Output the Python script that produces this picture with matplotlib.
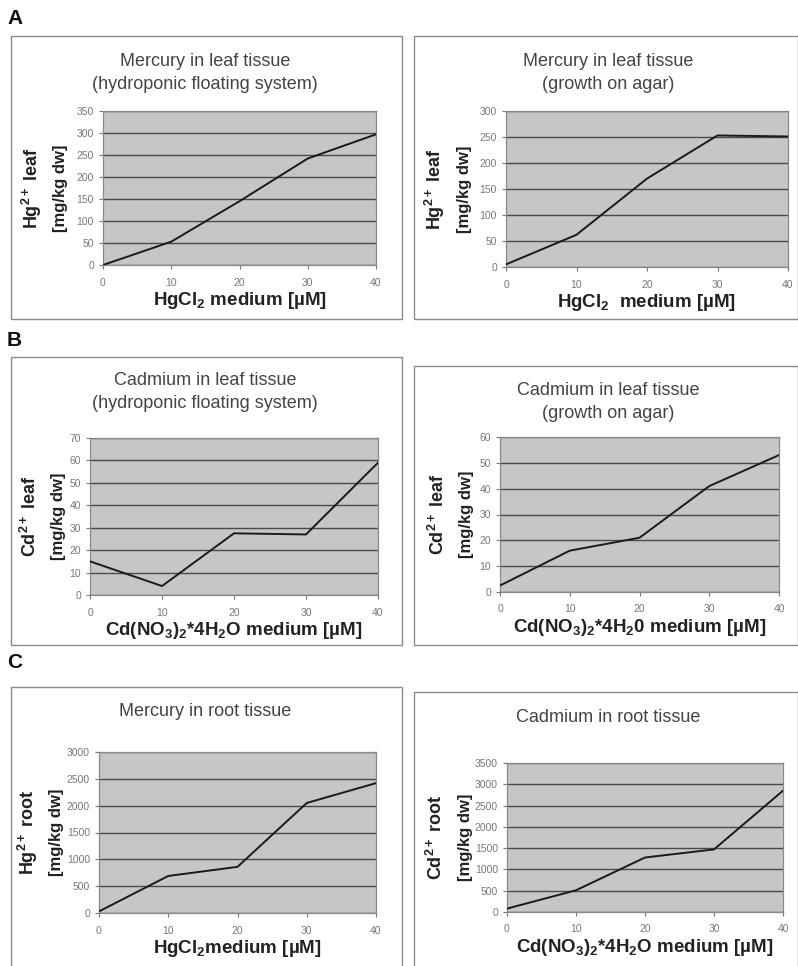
import matplotlib.pyplot as plt
from matplotlib.patches import Rectangle

plt.rcParams['font.family'] = ['Liberation Sans', 'DejaVu Sans']
plt.rcParams['mathtext.fontset'] = 'custom'
plt.rcParams['mathtext.rm'] = 'Liberation Sans'
plt.rcParams['mathtext.bf'] = 'Liberation Sans:bold'
plt.rcParams['mathtext.default'] = 'regular'

W, H = 798, 966

conc = [0, 10, 20, 30, 40]
conc_ticks = [0, 10, 20, 30, 40]

hg_leaf_float = [0, 53, 145, 242, 297]
hg_leaf_agar = [5, 62, 170, 253, 251]
cd_leaf_float = [15, 4, 27.5, 27, 59]
cd_leaf_agar = [2.5, 16, 21, 41, 53]
hg_root = [30, 690, 860, 2050, 2420]
cd_root = [80, 510, 1280, 1470, 2850]

fig = plt.figure(figsize=(W / 100, H / 100), dpi=100)


def frame(x0, y0, x1, y1):
    fig.patches.append(Rectangle((x0 / W, 1 - y1 / H), (x1 - x0) / W, (y1 - y0) / H,
                                 transform=fig.transFigure, fill=False,
                                 edgecolor='#8a8a8a', lw=1.0))


def panel(box, values, ymax, ystep, title, ylab1, ylab2, xlab, title_y, frame_cx, ylab_x):
    x0, y0, x1, y1 = box
    ax = fig.add_axes([x0 / W, 1 - y1 / H, (x1 - x0) / W, (y1 - y0) / H])
    ax.set_facecolor('#c6c6c6')
    ax.plot(conc, values, color='#1a1a1a', lw=1.4, zorder=3)
    ax.set_xlim(0, 40)
    ax.set_ylim(0, ymax)
    ax.set_xticks(conc_ticks)
    ax.set_yticks(range(0, ymax + 1, ystep))
    ax.yaxis.grid(True, color='#4a4a4a', lw=1.0)
    ax.set_axisbelow(True)
    for s in ax.spines.values():
        s.set_color('#8a8a8a')
        s.set_linewidth(0.9)
    ax.tick_params(axis='both', labelsize=7.5, colors='#777777', length=3, width=0.8)
    ax.tick_params(axis='x', pad=6)
    cy = 1 - (y0 + y1) / 2 / H
    fig.text(ylab_x / W, cy, ylab1, rotation=90, ha='center', va='center',
             fontsize=13, fontweight='bold', color='#222222')
    fig.text((ylab_x + 29) / W, cy, ylab2, rotation=90, ha='center', va='center',
             fontsize=12, fontweight='bold', color='#222222')
    ax.set_xlabel(xlab, fontsize=13.5, fontweight='bold', color='#222222', labelpad=2)
    fig.text(frame_cx / W, 1 - title_y / H, title, ha='center', va='center',
             fontsize=13, color='#444444', linespacing=1.5)
    return ax


# frames
frame(11, 36, 402, 319)
frame(414, 36, 798, 319)
frame(11, 357, 402, 645)
frame(414, 366, 798, 645)
frame(11, 687, 402, 968)
frame(414, 692, 798, 968)

for letter, y in [('A', 18), ('B', 340), ('C', 662)]:
    fig.text(7 / W, 1 - y / H, letter, fontsize=15, fontweight='bold',
             ha='left', va='center', color='#111111')

panel((103, 111, 376, 265), hg_leaf_float, 350, 50,
      'Mercury in leaf tissue\n(hydroponic floating system)',
      'Hg$^{2+}$ leaf', '[mg/kg dw]', 'HgCl$_2$ medium [µM]', 73, 205, 32)
panel((506, 111, 788, 267), hg_leaf_agar, 300, 50,
      'Mercury in leaf tissue\n(growth on agar)',
      'Hg$^{2+}$ leaf', '[mg/kg dw]', 'HgCl$_2$  medium [µM]', 73, 608, 435)
panel((90, 438, 378, 595), cd_leaf_float, 70, 10,
      'Cadmium in leaf tissue\n(hydroponic floating system)',
      'Cd$^{2+}$ leaf', '[mg/kg dw]', 'Cd(NO$_3$)$_2$*4H$_2$O medium [µM]', 392, 205, 30)
panel((500, 437, 779, 592), cd_leaf_agar, 60, 10,
      'Cadmium in leaf tissue\n(growth on agar)',
      'Cd$^{2+}$ leaf', '[mg/kg dw]', 'Cd(NO$_3$)$_2$*4H$_2$0 medium [µM]', 402, 608, 438)
panel((99, 752, 376, 913), hg_root, 3000, 500,
      'Mercury in root tissue',
      'Hg$^{2+}$ root', '[mg/kg dw]', 'HgCl$_2$medium [µM]', 712, 205, 28)
panel((507, 763, 783, 912), cd_root, 3500, 500,
      'Cadmium in root tissue',
      'Cd$^{2+}$ root', '[mg/kg dw]', 'Cd(NO$_3$)$_2$*4H$_2$O medium [µM]', 718, 608, 436)

fig.savefig('out.png', dpi=100, facecolor='white')
